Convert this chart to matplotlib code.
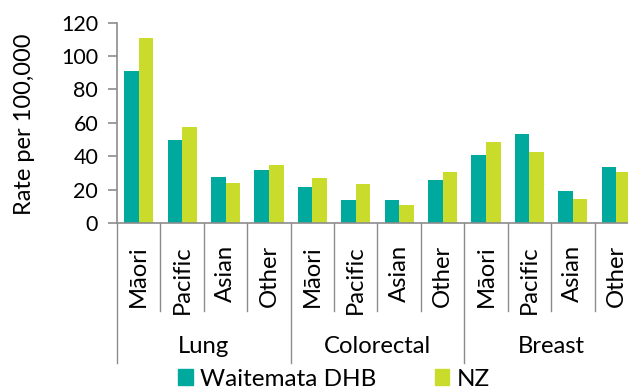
import numpy as np
import matplotlib.pyplot as plt
from matplotlib.patches import Patch

plt.rcParams['font.family'] = ['Lato', 'DejaVu Sans']

# Data
cancers = ['Lung', 'Colorectal', 'Breast']
ethnicities = ['Māori', 'Pacific', 'Asian', 'Other']
waitemata = [91, 50, 27.5, 32, 21.5, 13.5, 14, 25.5, 41, 53.5, 19, 33.5]
nz = [111, 57.5, 24, 34.5, 27, 23.5, 11, 30.5, 48.5, 42.5, 14.5, 30.5]

teal = '#00A99D'
lime = '#C9DC2B'
grey = '#8C8C8C'

fig = plt.figure(figsize=(6.28, 3.92), dpi=100)
# axes runs a little past the right edge, like the original
ax = fig.add_axes([117 / 628, 169 / 392, 521 / 628, 200.3 / 392])

x = np.arange(len(waitemata))
w = 0.335
ax.bar(x - w / 2, waitemata, w, color=teal)
ax.bar(x + w / 2, nz, w, color=lime)

ax.set_xlim(-0.5, len(x) - 0.5)
ax.set_ylim(0, 120)
ax.set_yticks(range(0, 121, 20))
ax.set_xticks([])
ax.tick_params(axis='y', length=6.5, width=1.2, color=grey, pad=7, labelsize=15.5)

for s in ['top', 'right']:
    ax.spines[s].set_visible(False)
for s in ['left', 'bottom']:
    ax.spines[s].set_color(grey)
    ax.spines[s].set_linewidth(1.2)

trans = ax.get_xaxis_transform()

# category separators
for b in np.arange(-0.5, len(x), 1.0):
    bottom = -0.699 if (b + 0.5) % 4 == 0 else -0.438
    ax.plot([b, b], [0, bottom], color=grey, lw=1.0, transform=trans, clip_on=False)

# ethnicity labels
for i in x:
    ax.text(i, -0.11, ethnicities[i % 4], rotation=90, ha='center', va='top',
            fontsize=17.2, transform=trans)

# cancer group labels
for g, name in enumerate(cancers):
    ax.text(1.5 + 4 * g, -0.618, name, ha='center', va='center',
            fontsize=17.2, transform=trans)

fig.text(25 / 628, 1 - 124 / 392, 'Rate per 100,000', rotation=90,
         ha='center', va='center', fontsize=17)

handles = [Patch(color=teal, label='Waitemata DHB'), Patch(color=lime, label='NZ')]
fig.legend(handles=handles, loc='center', bbox_to_anchor=(334 / 628, 1 - 379 / 392),
           ncol=2, frameon=False, fontsize=17.5, handlelength=0.6, handleheight=0.6,
           handletextpad=0.3, columnspacing=2.4, borderpad=0)

fig.savefig('out.png', dpi=100)
